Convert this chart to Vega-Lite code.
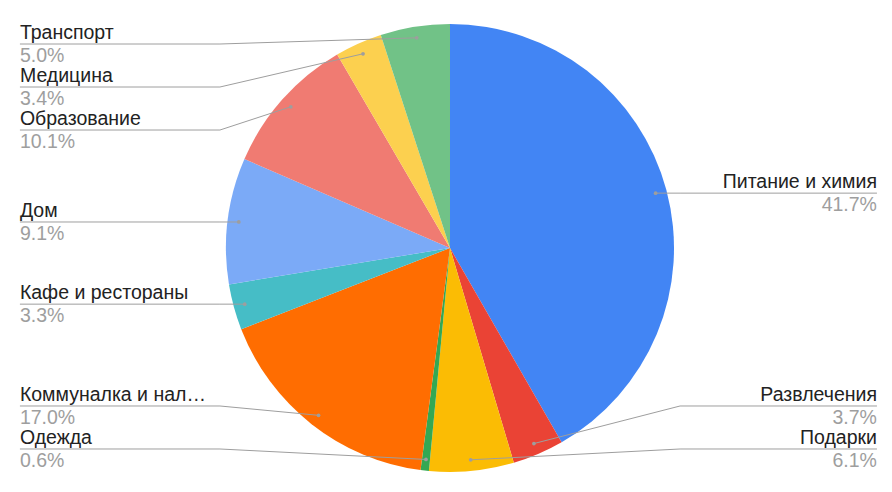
{
  "$schema": "https://vega.github.io/schema/vega-lite/v6.json",
  "width": 892,
  "height": 492,
  "autosize": {"type": "fit", "contains": "padding"},
  "padding": {"left": 8, "right": 0, "top": 4, "bottom": 0},
  "background": "white",
  "config": {"view": {"stroke": null}, "text": {"font": "Liberation Sans"}},
  "data": {
    "values": [
      {"category": "Питание и химия", "value": 41.7},
      {"category": "Развлечения", "value": 3.7},
      {"category": "Подарки", "value": 6.1},
      {"category": "Одежда", "value": 0.6},
      {"category": "Коммуналка и нал…", "value": 17.0},
      {"category": "Кафе и рестораны", "value": 3.3},
      {"category": "Дом", "value": 9.1},
      {"category": "Образование", "value": 10.1},
      {"category": "Медицина", "value": 3.4},
      {"category": "Транспорт", "value": 5.0}
    ]
  },
  "transform": [
    {"window": [{"op": "row_number", "as": "idx"}]},
    {"joinaggregate": [{"op": "sum", "field": "value", "as": "total"}]},
    {"window": [{"op": "sum", "field": "value", "as": "cum"}], "sort": [{"field": "idx", "order": "ascending"}], "frame": [null, 0]},
    {"calculate": "datum.value / datum.total", "as": "pct"},
    {"calculate": "2 * PI * (datum.cum - datum.value / 2) / datum.total", "as": "ang"},
    {"calculate": "0.95 * sin(datum.ang)", "as": "px"},
    {"calculate": "-0.95 * cos(datum.ang)", "as": "py"},
    {"calculate": "sin(datum.ang) >= 0 ? 'right' : 'left'", "as": "side"},
    {"calculate": "clamp(datum.py, -0.9107, 0.8973)", "as": "yc"},
    {"window": [{"op": "row_number", "as": "k"}], "groupby": ["side"], "sort": [{"field": "py", "order": "ascending"}]},
    {"calculate": "datum.yc - 0.192 * datum.k", "as": "a"},
    {"window": [{"op": "max", "field": "a", "as": "amax"}], "groupby": ["side"], "sort": [{"field": "k", "order": "ascending"}], "frame": [null, 0]},
    {"calculate": "datum.amax + 0.192 * datum.k", "as": "yf"},
    {"calculate": "min(datum.yf, 0.8973) - 0.192 * datum.k", "as": "b"},
    {"window": [{"op": "min", "field": "b", "as": "bmin"}], "groupby": ["side"], "sort": [{"field": "k", "order": "ascending"}], "frame": [0, null]},
    {"calculate": "datum.bmin + 0.192 * datum.k", "as": "ly"},
    {"calculate": "datum.side == 'right' ? 1.027 : -1.027", "as": "ex"},
    {"calculate": "datum.side == 'right' ? 1.906 : -1.92", "as": "lx"}
  ],
  "layer": [
    {
      "mark": {"type": "arc", "outerRadius": 224},
      "encoding": {
        "theta": {"field": "value", "type": "quantitative", "stack": true},
        "order": {"field": "idx", "type": "quantitative"},
        "color": {
          "field": "category",
          "type": "nominal",
          "legend": null,
          "scale": {
            "domain": ["Питание и химия", "Развлечения", "Подарки", "Одежда", "Коммуналка и нал…", "Кафе и рестораны", "Дом", "Образование", "Медицина", "Транспорт"],
            "range": ["#4285F4", "#EA4335", "#FBBC04", "#34A853", "#FF6D01", "#46BDC6", "#7BAAF7", "#F07B72", "#FCD04F", "#71C287"]
          }
        }
      }
    },
    {
      "mark": {"type": "rule", "stroke": "#9e9e9e", "strokeWidth": 1},
      "encoding": {
        "x": {"field": "px", "type": "quantitative", "axis": null, "scale": {"domain": [-1.9732, 1.9732], "nice": false, "zero": false}},
        "y": {"field": "py", "type": "quantitative", "axis": null, "scale": {"domain": [-1.0893, 1.0893], "nice": false, "zero": false, "reverse": true}},
        "x2": {"field": "ex"},
        "y2": {"field": "ly"}
      }
    },
    {
      "mark": {"type": "rule", "stroke": "#9e9e9e", "strokeWidth": 1},
      "encoding": {
        "x": {"field": "ex", "type": "quantitative"},
        "x2": {"field": "lx"},
        "y": {"field": "ly", "type": "quantitative"}
      }
    },
    {
      "mark": {"type": "point", "filled": true, "size": 14, "color": "#9e9e9e", "opacity": 1},
      "encoding": {
        "x": {"field": "px", "type": "quantitative"},
        "y": {"field": "py", "type": "quantitative"}
      }
    },
    {
      "transform": [{"filter": "datum.side == 'left'"}],
      "mark": {"type": "text", "align": "left", "baseline": "alphabetic", "dy": -5, "fontSize": 19.5, "color": "#222222"},
      "encoding": {
        "x": {"field": "lx", "type": "quantitative"},
        "y": {"field": "ly", "type": "quantitative"},
        "text": {"field": "category"}
      }
    },
    {
      "transform": [{"filter": "datum.side == 'right'"}],
      "mark": {"type": "text", "align": "right", "baseline": "alphabetic", "dy": -5, "fontSize": 19.5, "color": "#222222"},
      "encoding": {
        "x": {"field": "lx", "type": "quantitative"},
        "y": {"field": "ly", "type": "quantitative"},
        "text": {"field": "category"}
      }
    },
    {
      "transform": [{"filter": "datum.side == 'left'"}],
      "mark": {"type": "text", "align": "left", "baseline": "alphabetic", "dy": 18, "fontSize": 19.5, "color": "#9e9e9e"},
      "encoding": {
        "x": {"field": "lx", "type": "quantitative"},
        "y": {"field": "ly", "type": "quantitative"},
        "text": {"field": "pct", "format": ".1%"}
      }
    },
    {
      "transform": [{"filter": "datum.side == 'right'"}],
      "mark": {"type": "text", "align": "right", "baseline": "alphabetic", "dy": 18, "fontSize": 19.5, "color": "#9e9e9e"},
      "encoding": {
        "x": {"field": "lx", "type": "quantitative"},
        "y": {"field": "ly", "type": "quantitative"},
        "text": {"field": "pct", "format": ".1%"}
      }
    }
  ]
}
